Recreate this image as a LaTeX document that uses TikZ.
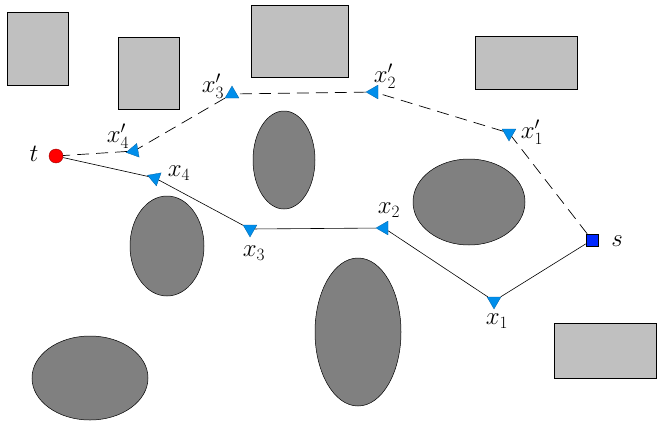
\documentclass[tikz,border=0pt]{standalone}
\usetikzlibrary{shapes.geometric}

\definecolor{boxgray}{RGB}{192,192,192}
\definecolor{rockgray}{RGB}{128,128,128}
\definecolor{wayblue}{RGB}{0,142,235}
\definecolor{goalblue}{RGB}{0,40,255}

\begin{document}
\begin{tikzpicture}[x=1pt,y=-1pt,
    block/.style={draw=black,fill=boxgray,line width=0.7pt},
    rock/.style={draw=black,fill=rockgray,line width=0.5pt},
    wp/.style={regular polygon,regular polygon sides=3,fill=wayblue,draw=wayblue!70!black,line width=0.3pt,inner sep=0pt,minimum size=16pt},
    lbl/.style={inner sep=0pt,font=\fontsize{23}{27}\selectfont},
    route/.style={line width=0.6pt},
    alt/.style={line width=0.7pt,dash pattern=on 12pt off 7pt}]

                \useasboundingbox (0,0) rectangle (663,428);

                % obstacles
                \draw[block] (7,12) rectangle (68,85);
                \draw[block] (118,37) rectangle (179,109);
                \draw[block] (251,5) rectangle (348,77);
                \draw[block] (475,36) rectangle (577,89);
                \draw[block] (554,323) rectangle (656,378);

                \draw[rock] (284,160) ellipse [x radius=31pt, y radius=49pt];
                \draw[rock] (469,202) ellipse [x radius=56pt, y radius=43pt];
                \draw[rock] (167,246) ellipse [x radius=37pt, y radius=50pt];
                \draw[rock] (358,332) ellipse [x radius=43pt, y radius=74pt];
                \draw[rock] (90,378) ellipse [x radius=58pt, y radius=42pt];

                % start and goal
                \node[circle,fill=red,draw=red!60!black,line width=0.4pt,inner sep=0pt,minimum size=14pt] (t) at (56,156) {};
                \node[rectangle,fill=goalblue,draw=black,line width=0.4pt,inner sep=0pt,minimum size=12pt] (s) at (592,240) {};

                % waypoints
                \node[wp,rotate=180] (x1) at (494,301) {};
                \node[wp,rotate=90] (x2) at (384,228) {};
                \node[wp,rotate=180] (x3) at (250,229) {};
                \node[wp,rotate=190] (x4) at (155,178) {};

                \node[wp,rotate=180] (x1p) at (509,133) {};
                \node[wp,rotate=90] (x2p) at (374,92) {};
                \node[wp] (x3p) at (232,94) {};
                \node[wp,rotate=100] (x4p) at (134,151) {};

                \foreach \from/\to in {t/x4, x4/x3, x3/x2, x2/x1, x1/s}
                    {
                    \draw[route] (\from) -- (\to);
                    }

                \foreach \from/\to in {s/x1p, x1p/x2p, x2p/x3p, x3p/x4p, x4p/t}
                    {
                    \draw[alt] (\from) -- (\to);
                    }

                % labels
                \node[lbl] (lt) at (34,154) {$t$};
                \node[lbl] (ls) at (617,241) {$s$};
                \node[lbl] (lx1) at (497,321) {$x_1$};
                \node[lbl] (lx2) at (389,210) {$x_2$};
                \node[lbl] (lx3) at (254,253) {$x_3$};
                \node[lbl] (lx4) at (179,173) {$x_4$};
                \node[lbl] (lx1p) at (532,132) {$x'_1$};
                \node[lbl] (lx2p) at (385,76) {$x'_2$};
                \node[lbl] (lx3p) at (213,86) {$x'_3$};
                \node[lbl] (lx4p) at (118,136) {$x'_4$};

            \end{tikzpicture}
\end{document}
